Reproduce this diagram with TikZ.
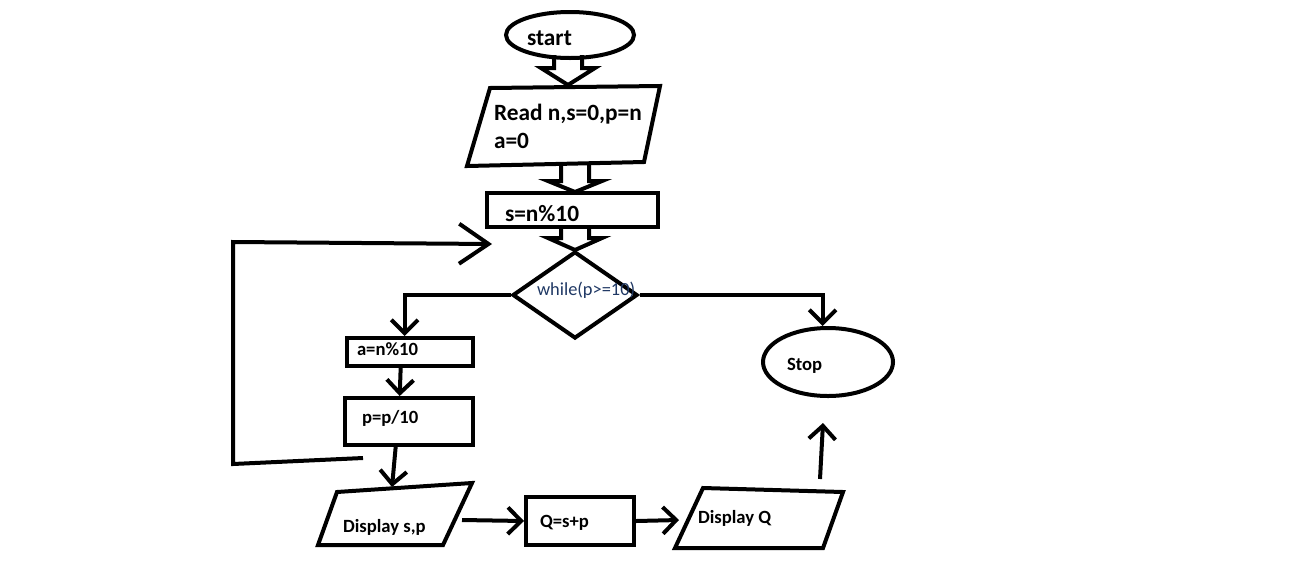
\documentclass[tikz,border=0pt]{standalone}
\usepackage{fontspec}
\setmainfont{Carlito}
\usetikzlibrary{arrows.meta,shapes.geometric}
\definecolor{navytext}{RGB}{31,56,100}
\def\hollowarrow(#1,#2,#3,#4){\draw (#1-14,#2) -- (#1-14,#3) -- (#1-27,#3) -- (#1,#4) -- (#1+27,#3) -- (#1+14,#3) -- (#1+14,#2);}
\tikzset{
  terminal/.style={draw, ellipse, inner sep=0pt},
  box/.style={draw, rectangle, inner sep=0pt},
  cond/.style={draw, diamond, inner sep=0pt},
  bigtext/.style={font=\fontsize{17.5}{21}\selectfont\bfseries, inner sep=0pt, anchor=base west},
  smalltext/.style={font=\fontsize{14}{17}\selectfont\bfseries, inner sep=0pt, anchor=base west},
  condtext/.style={font=\fontsize{13.8}{16}\selectfont, text=navytext, inner sep=0pt, anchor=base west},
  barb/.style={-{Straight Barb[length=10pt,width=20pt]}},
  bigbarb/.style={-{Straight Barb[length=22pt,width=30pt]}}
}

\begin{document}
\begin{tikzpicture}[x=0.75pt, y=-0.75pt, line width=3pt]
			%%%%% START %%%%%
			\useasboundingbox (0,0) rectangle (1308,568);
			
			\node[terminal, minimum width=96pt, minimum height=34.5pt] (start) at (570,35) {};
			\node[bigtext] (start text) at (525,45) {start};
			\hollowarrow(568,55,68,85)
			
			\draw (490,88) -- (660,86) -- (644,162) -- (467,166) -- cycle;
			\node[bigtext] (read text) at (492,120) {Read n,s=0,p=n};
			\node[bigtext] (init text) at (492,148) {a=0};
			\hollowarrow(575,164,181,192)
			
			\node[box, minimum width=128.25pt, minimum height=25.5pt] (digit) at (572.5,210) {};
			\node[bigtext] (digit text) at (503,221) {s=n\%10};
			\hollowarrow(575,227,238,250)
			
			\node[cond, minimum width=93.75pt, minimum height=65.25pt] (while) at (575,295) {};
			\node[condtext] (while text) at (535,295) {while(p>=10)};
			
			\node[box, minimum width=94.5pt, minimum height=21pt] (last) at (410,352) {};
			\node[smalltext] (last text) at (355,355) {a=n\%10};
			
			\node[box, minimum width=96pt, minimum height=35.25pt] (shift) at (409,421.5) {};
			\node[smalltext] (shift text) at (360,423) {p=p/10};
			
			\draw (337,492) -- (472,483) -- (443,545) -- (318,545) -- cycle;
			\coordinate (show top) at (392,487);
			\coordinate (show right) at (462,520);
			\node[smalltext] (show text) at (341,532) {Display s,p};
			
			\node[box, minimum width=81pt, minimum height=36pt] (sum) at (580,521) {};
			\node[smalltext] (sum text) at (538,527) {Q=s+p};
			
			\draw (703,488) -- (843,492) -- (823,548) -- (675,548) -- cycle;
			\coordinate (result left) at (679,520);
			\coordinate (result top) at (820,479);
			\node[smalltext] (result text) at (696,523) {Display Q};
			
			\node[terminal, minimum width=97.5pt, minimum height=51pt] (stop) at (828,362) {};
			\node[smalltext] (stop text) at (785,370) {Stop};
			\coordinate (stop in) at (823,423);
			
			% connectors
			\draw[barb] (while.west) -| ([xshift=-4pt]last.north);
			\draw[barb] ([xshift=-7pt]last.south) -- ([xshift=-7pt]shift.north);
			\draw[barb] ([xshift=-10pt]shift.south) -- (show top);
			
			\coordinate (back start) at (363,458);
			\coordinate (back end) at (492,244);
			\draw[bigbarb] (back start) -- (233,464) -- (233,242) -- (back end);
			
			\draw[barb] (while.east) -| ([xshift=-4pt]stop.north);
			\draw[barb] (show right) -- (sum.west);
			\draw[barb] (sum.east) -- (result left);
			\draw[barb] (result top) -- (stop in);
			
			%%%%% END %%%%%
		\end{tikzpicture}
\end{document}
